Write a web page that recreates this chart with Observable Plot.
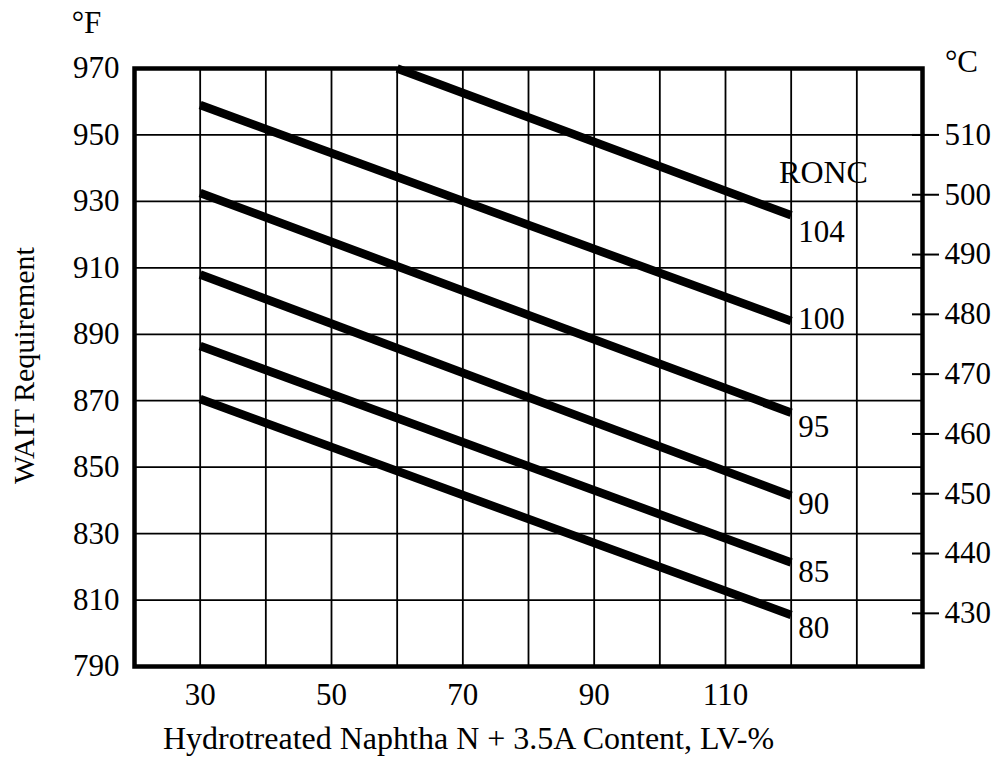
<!DOCTYPE html>
<html>
<head>
<meta charset="utf-8">
<script src="https://cdn.jsdelivr.net/npm/d3@7"></script>
<script src="https://cdn.jsdelivr.net/npm/@observablehq/plot@0.6"></script>
<style>
  body { margin: 0; background: #fff; }
</style>
</head>
<body>
<div id="chart"></div>
<script>
// RONC curves: WAIT requirement (°F) vs hydrotreated naphtha N + 3.5A content (LV-%)
const ronc = [80, 85, 90, 95, 100, 104];
const startContent = [30, 30, 30, 30, 30, 60];
const startWaitF = [870.5, 886.5, 908, 932.5, 959, 970];
const endContent = [120, 120, 120, 120, 120, 120];
const endWaitF = [805.5, 821.3, 841.4, 866.4, 894, 925.8];

// axis ticks and grid
const xTickLabels = [30, 50, 70, 90, 110];
const xGridLines = [20, 30, 40, 50, 60, 70, 80, 90, 100, 110, 120, 130, 140];
const fTicks = [790, 810, 830, 850, 870, 890, 910, 930, 950, 970];
const cTicks = [430, 440, 450, 460, 470, 480, 490, 500, 510];

const segments = ronc.flatMap((r, i) => [
  {ronc: r, content: startContent[i], waitF: startWaitF[i]},
  {ronc: r, content: endContent[i], waitF: endWaitF[i]}
]);
const ends = ronc.map((r, i) => ({ronc: r, content: endContent[i], waitF: endWaitF[i]}));

// vertical nudges (px) for the curve labels at the right-hand ends
const labelDy = {80: 13, 85: 10, 90: 8, 95: 14, 100: -2, 104: 17};

const fToC = f => (f - 32) * 5 / 9;
const cToF = c => c * 9 / 5 + 32;

const font = "'Liberation Serif', 'Times New Roman', serif";
const centered = {textAnchor: "middle", lineAnchor: "middle"};

const chart = Plot.plot({
  width: 998,
  height: 763,
  marginLeft: 134,
  marginRight: 76,
  marginTop: 68,
  marginBottom: 97,
  style: {fontFamily: font, fontSize: "31px", background: "#fff", color: "#000"},
  x: {domain: [20, 140]},
  y: {domain: [790, 970]},
  marks: [
    Plot.gridX(xGridLines, {stroke: "#000", strokeOpacity: 1, strokeWidth: 1.8}),
    Plot.gridY(fTicks, {stroke: "#000", strokeOpacity: 1, strokeWidth: 1.8}),
    Plot.axisX(xTickLabels, {tickSize: 0, tickPadding: 16, label: null}),
    Plot.axisY(fTicks, {anchor: "left", tickSize: 0, tickPadding: 15, label: null}),
    Plot.axisY(cTicks.map(cToF), {
      anchor: "right", tickSize: 27, dx: -11, tickPadding: 6, strokeWidth: 2,
      tickFormat: f => String(Math.round(fToC(f))), label: null
    }),
    Plot.line(segments, {x: "content", y: "waitF", z: "ronc", stroke: "#000", strokeWidth: 8.5, strokeLinecap: "butt"}),
    ...ends.map(d => Plot.text([d], {
      x: "content", y: "waitF", text: d => String(d.ronc),
      textAnchor: "start", dx: 7, dy: labelDy[d.ronc]
    })),
    Plot.text(["RONC"], {frameAnchor: "top-right", text: d => d, ...centered, dx: -99, dy: 104, fontSize: 32}),
    Plot.text(["°F"], {frameAnchor: "top-left", text: d => d, ...centered, dx: -48, dy: -45}),
    Plot.text(["°C"], {frameAnchor: "top-right", text: d => d, ...centered, dx: 39, dy: -6}),
    Plot.text(["WAIT Requirement"], {frameAnchor: "left", text: d => d, ...centered, rotate: -90, dx: -110, dy: -2, fontSize: 30}),
    Plot.text(["Hydrotreated Naphtha N + 3.5A Content, LV-%"], {frameAnchor: "bottom", text: d => d, ...centered, dx: -60, dy: 72, fontSize: 32}),
    Plot.frame({stroke: "#000", strokeWidth: 4.5})
  ]
});

document.getElementById("chart").appendChild(chart);
</script>
</body>
</html>
